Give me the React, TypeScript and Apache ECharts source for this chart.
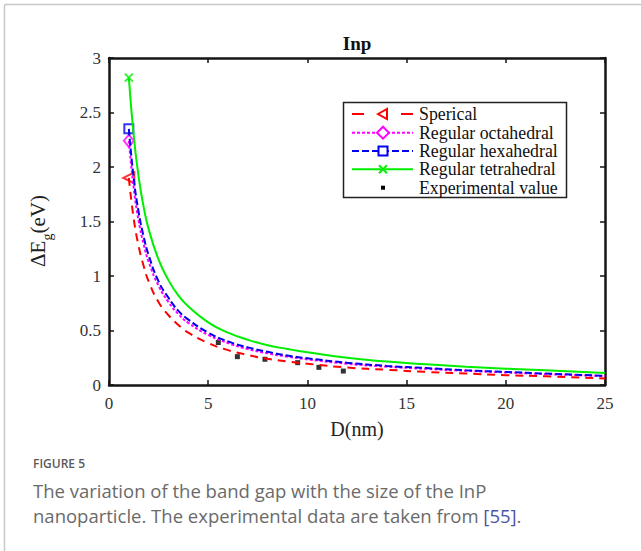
import React, { useEffect, useRef } from "react";
import * as echarts from "echarts";

const D = [1, 1.25, 1.5, 1.75, 2, 2.5, 3, 3.5, 4, 5, 6, 7, 8, 9, 10, 12, 14, 16, 18, 20, 22, 25];
const tetrahedral = [2.82, 2.28, 1.9, 1.63, 1.43, 1.15, 0.96, 0.82, 0.72, 0.575, 0.48, 0.415, 0.365, 0.33, 0.3, 0.25, 0.215, 0.19, 0.168, 0.15, 0.135, 0.11];
const hexahedral = [2.35, 1.89, 1.58, 1.36, 1.19, 0.95, 0.8, 0.68, 0.6, 0.48, 0.4, 0.345, 0.305, 0.27, 0.245, 0.205, 0.175, 0.155, 0.135, 0.12, 0.105, 0.085];
const octahedral = [2.24, 1.8, 1.5, 1.29, 1.13, 0.91, 0.76, 0.65, 0.57, 0.46, 0.385, 0.33, 0.29, 0.26, 0.235, 0.195, 0.168, 0.148, 0.13, 0.115, 0.1, 0.082];
const spherical = [1.9, 1.52, 1.27, 1.09, 0.95, 0.76, 0.64, 0.55, 0.48, 0.385, 0.32, 0.275, 0.24, 0.215, 0.195, 0.16, 0.14, 0.12, 0.105, 0.09, 0.08, 0.06];
const expD = [5.51, 6.47, 7.86, 9.51, 10.58, 11.81];
const expE = [0.39, 0.26, 0.236, 0.205, 0.162, 0.128];
const legendLabels = ["Sperical", "Regular octahedral", "Regular hexahedral", "Regular tetrahedral", "Experimental value"];

const SERIF = "'Liberation Serif', 'Times New Roman', serif";
const SANS = "'Open Sans', 'Noto Sans', sans-serif";

export default function App() {
  const ref = useRef<HTMLDivElement>(null);
  useEffect(() => {
    if (!ref.current) return;
    const chart = echarts.init(ref.current, null, { renderer: "svg" });
    const pairs = (ys: number[]) => D.map((d, i) => [d, ys[i]]);
    const axisLine = { show: true, onZero: false, lineStyle: { color: "#151515", width: 2.5 } };
    const axisTick = { show: true, inside: true, length: 5, lineStyle: { color: "#151515", width: 1.5 } };
    const lx1 = 352, lx2 = 413, mx = 383, tx = 419;
    const rows = [114, 132.7, 151, 169.3, 187.7];
    const graphic: any[] = [
      { type: "line", shape: { x1: 4.5, y1: 4.5, x2: 641, y2: 4.5 }, style: { stroke: "#c8c8c8", lineWidth: 1.5 } },
      { type: "line", shape: { x1: 4.5, y1: 4.5, x2: 4.5, y2: 551 }, style: { stroke: "#c8c8c8", lineWidth: 1.5 } },
      { type: "rect", shape: { x: 343.5, y: 102.5, width: 223, height: 95 }, style: { fill: "#fff", stroke: "#222", lineWidth: 1.5 }, z: 10 },
      // red
      { type: "line", shape: { x1: lx1, y1: rows[0], x2: 364, y2: rows[0] }, style: { stroke: "#ff0000", lineWidth: 2 }, z: 11 },
      { type: "line", shape: { x1: 401, y1: rows[0], x2: lx2, y2: rows[0] }, style: { stroke: "#ff0000", lineWidth: 2 }, z: 11 },
      { type: "polygon", shape: { points: [[mx - 5, rows[0]], [mx + 4, rows[0] - 5], [mx + 4, rows[0] + 5]] }, style: { fill: "#fff", stroke: "#ff0000", lineWidth: 2 }, z: 12 },
      // magenta
      { type: "line", shape: { x1: lx1, y1: rows[1], x2: lx2, y2: rows[1] }, style: { stroke: "#ff00ff", lineWidth: 2, lineDash: [3, 2] }, z: 11 },
      { type: "polygon", shape: { points: [[mx, rows[1] - 6], [mx + 6, rows[1]], [mx, rows[1] + 6], [mx - 6, rows[1]]] }, style: { fill: "#fff", stroke: "#ff00ff", lineWidth: 2 }, z: 12 },
      // blue
      { type: "line", shape: { x1: lx1, y1: rows[2], x2: lx2, y2: rows[2] }, style: { stroke: "#0000ee", lineWidth: 2, lineDash: [7, 3] }, z: 11 },
      { type: "rect", shape: { x: mx - 4.5, y: rows[2] - 4.5, width: 9, height: 9 }, style: { fill: "#fff", stroke: "#0000ee", lineWidth: 2 }, z: 12 },
      // green
      { type: "line", shape: { x1: lx1, y1: rows[3], x2: lx2, y2: rows[3] }, style: { stroke: "#00ee00", lineWidth: 2 }, z: 11 },
      { type: "line", shape: { x1: mx - 4, y1: rows[3] - 4, x2: mx + 4, y2: rows[3] + 4 }, style: { stroke: "#00ee00", lineWidth: 2 }, z: 12 },
      { type: "line", shape: { x1: mx - 4, y1: rows[3] + 4, x2: mx + 4, y2: rows[3] - 4 }, style: { stroke: "#00ee00", lineWidth: 2 }, z: 12 },
      // black
      { type: "rect", shape: { x: mx - 2, y: rows[4] - 2, width: 4, height: 4 }, style: { fill: "#000" }, z: 12 },
      ...legendLabels.map((t, i) => ({
        type: "text", x: tx, y: rows[i], z: 12,
        style: { text: t, font: `17.8px ${SERIF}`, fill: "#111", verticalAlign: "middle", align: "left" },
      })),
      {
        type: "text", x: 38, y: 231, rotation: Math.PI / 2,
        style: {
          text: "{a|ΔE}{b|g}{a|(eV)}",
          align: "center", verticalAlign: "middle",
          rich: {
            a: { fontFamily: SERIF, fontSize: 21, fill: "#222", lineHeight: 32 },
            b: { fontFamily: SERIF, fontSize: 14, fill: "#222", lineHeight: 32, verticalAlign: "bottom" },
          },
        },
      },
      { type: "text", x: 357, y: 43, style: { text: "Inp", font: `bold 19px ${SERIF}`, fill: "#111", align: "center", verticalAlign: "middle" } },
      { type: "text", x: 33, y: 463, style: { text: "FIGURE 5", font: `600 12px ${SANS}`, fill: "#5a5a5a", align: "left", verticalAlign: "middle" } },
      { type: "text", x: 33, y: 490, style: { text: "The variation of the band gap with the size of the InP", font: `18.5px ${SANS}`, fill: "#6a6a6a", align: "left", verticalAlign: "middle" } },
      {
        type: "text", x: 33, y: 515,
        style: {
          text: "{n|nanoparticle. The experimental data are taken from }{l|[55]}{n|.}",
          align: "left", verticalAlign: "middle",
          rich: {
            n: { fontFamily: SANS, fontSize: 18.5, fill: "#6a6a6a" },
            l: { fontFamily: SANS, fontSize: 18.5, fill: "#4a55a8" },
          },
        },
      },
    ];

    chart.setOption({
      animation: false,
      backgroundColor: "#fff",
      grid: { left: 109, top: 58, right: 36, bottom: 166, show: false },
      xAxis: [
        {
          type: "value", min: 0, max: 25, interval: 5, position: "bottom",
          axisLine, axisTick, splitLine: { show: false },
          axisLabel: { fontFamily: SERIF, fontSize: 17, color: "#333", margin: 10 },
          name: "D(nm)", nameLocation: "middle", nameGap: 34,
          nameTextStyle: { fontFamily: SERIF, fontSize: 20, color: "#222" },
        },
        {
          type: "value", min: 0, max: 25, interval: 5, position: "top",
          axisLine, axisTick, splitLine: { show: false }, axisLabel: { show: false },
        },
      ],
      yAxis: [
        {
          type: "value", min: 0, max: 3, interval: 0.5, position: "left",
          axisLine, axisTick, splitLine: { show: false },
          axisLabel: { fontFamily: SERIF, fontSize: 17, color: "#333", margin: 8 },
        },
        {
          type: "value", min: 0, max: 3, interval: 0.5, position: "right",
          axisLine, axisTick, splitLine: { show: false }, axisLabel: { show: false },
        },
      ],
      series: [
        { type: "line", data: pairs(spherical), symbol: "none", smooth: true, lineStyle: { color: "#ff0000", width: 2, type: [8, 6] } },
        { type: "line", data: pairs(octahedral), symbol: "none", smooth: true, lineStyle: { color: "#ff00ff", width: 2, type: [3, 2] } },
        { type: "line", data: pairs(hexahedral), symbol: "none", smooth: true, lineStyle: { color: "#0000ee", width: 2, type: [7, 3] } },
        { type: "line", data: pairs(tetrahedral), symbol: "none", smooth: true, lineStyle: { color: "#00ee00", width: 2 } },
        { type: "scatter", data: [[D[0], spherical[0]]], symbol: "triangle", symbolRotate: 90, symbolSize: [11, 11], itemStyle: { color: "#fff", borderColor: "#ff0000", borderWidth: 2 } },
        { type: "scatter", data: [[D[0], octahedral[0]]], symbol: "diamond", symbolSize: [10, 12], itemStyle: { color: "#fff", borderColor: "#ff00ff", borderWidth: 2 } },
        { type: "scatter", data: [[D[0], hexahedral[0]]], symbol: "rect", symbolSize: 9, itemStyle: { color: "#fff", borderColor: "#0000ee", borderWidth: 2 } },
        { type: "scatter", data: [[D[0], tetrahedral[0]]], symbol: "path://M0,0L10,10M10,0L0,10", symbolSize: 8, itemStyle: { color: "none", borderColor: "#00ee00", borderWidth: 2 } },
        { type: "scatter", data: expD.map((d, i) => [d, expE[i]]), symbol: "rect", symbolSize: 5, itemStyle: { color: "#000" } },
      ],
      graphic,
    });
    return () => chart.dispose();
  }, []);
  return <div ref={ref} style={{ position: "fixed", left: 0, top: 0, width: 641, height: 551 }} />;
}
